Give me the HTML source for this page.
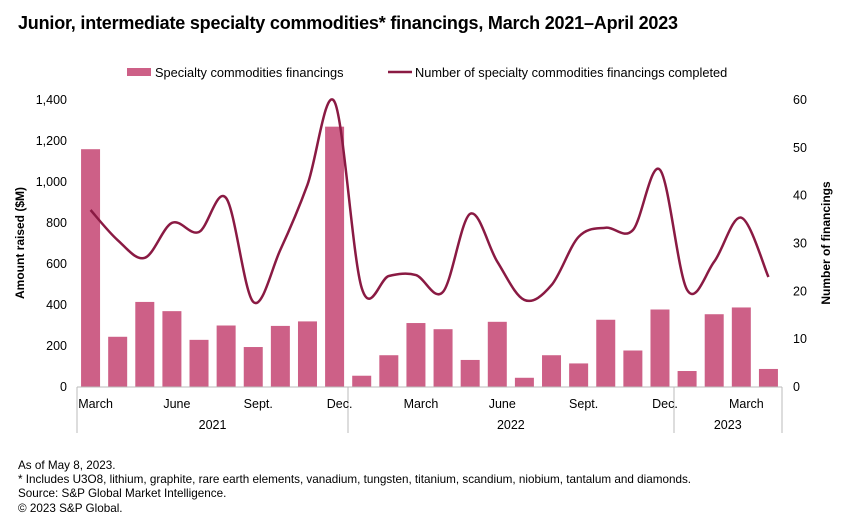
<!DOCTYPE html>
<html><head><meta charset="utf-8"><style>
body{margin:0;background:#fff;font-family:"Liberation Sans",sans-serif;}
#wrap{position:relative;width:850px;height:530px;overflow:hidden;}
.t{position:absolute;color:#000;}
</style></head><body>
<div id="wrap">
<div class="t" style="left:18px;top:13px;font-size:18px;font-weight:bold;letter-spacing:-0.2px;">Junior, intermediate specialty commodities* financings, March 2021–April 2023</div>
<svg id="c" width="850" height="530" style="position:absolute;left:0;top:0"></svg>
<div class="t" style="left:18px;top:459px;font-size:11.7px;line-height:14.2px;">As of May 8, 2023.<br>* Includes U3O8, lithium, graphite, rare earth elements, vanadium, tungsten, titanium, scandium, niobium, tantalum and diamonds.<br>Source: S&amp;P Global Market Intelligence.<br>© 2023 S&amp;P Global.</div>
</div>
<script>
const categories=["Mar21","Apr21","May21","Jun21","Jul21","Aug21","Sep21","Oct21","Nov21","Dec21","Jan22","Feb22","Mar22","Apr22","May22","Jun22","Jul22","Aug22","Sep22","Oct22","Nov22","Dec22","Jan23","Feb23","Mar23","Apr23"];
const amounts=[1160,245,415,370,230,300,195,298,320,1270,55,155,312,282,132,318,45,155,115,328,178,378,78,355,388,88];
const counts=[37,30.7,27,34.3,32.4,39.5,17.8,28.7,42.3,59.6,20.7,23.2,23.4,19.9,36.2,26.2,18.2,21.3,31.4,33.3,32.8,45.4,20.3,26.2,35.4,23];
const leftTicks=[0,200,400,600,800,1000,1200,1400];
const rightTicks=[0,10,20,30,40,50,60];
const monthLabels=[[0,"March"],[3,"June"],[6,"Sept."],[9,"Dec."],[12,"March"],[15,"June"],[18,"Sept."],[21,"Dec."],[24,"March"]];
const years=[["2021",0,9],["2022",10,21],["2023",22,25]];

const svg=document.getElementById('c');const NS="http://www.w3.org/2000/svg";
const X0=77,X1=782,Y0=387,Y1=100;
const band=(X1-X0)/categories.length;
const xc=i=>X0+band*(i+0.5);
const yL=v=>Y0-(v/1400)*(Y0-Y1);
const yR=v=>Y0-(v/60)*(Y0-Y1);
function mk(tag,at){const e=document.createElementNS(NS,tag);for(const k in at)e.setAttribute(k,at[k]);svg.appendChild(e);return e;}
function txt(x,y,s,anchor,size,extra){const e=mk('text',Object.assign({x:x,y:y,'text-anchor':anchor,'font-size':size,'font-family':'Liberation Sans, sans-serif',fill:'#000'},extra||{}));e.textContent=s;return e;}

amounts.forEach((v,i)=>{const r=mk('rect',{x:xc(i)-9.5,y:yL(v),width:19,height:Y0-yL(v),fill:'#cd6087'});

});

const pts=counts.map((v,i)=>[xc(i),yR(v)]);
let d="M"+pts[0][0]+","+pts[0][1];
for(let i=0;i<pts.length-1;i++){const p0=pts[Math.max(0,i-1)],p1=pts[i],p2=pts[i+1],p3=pts[Math.min(pts.length-1,i+2)];
const c1=[p1[0]+(p2[0]-p0[0])/6,p1[1]+(p2[1]-p0[1])/6],c2=[p2[0]-(p3[0]-p1[0])/6,p2[1]-(p3[1]-p1[1])/6];
d+=" C"+c1+" "+c2+" "+p2;}
const ln=mk('path',{d:d,fill:'none',stroke:'#8a1a43','stroke-width':2.5});



mk('line',{x1:X0,y1:Y0,x2:X1,y2:Y0,stroke:'#bbb','stroke-width':1});
[[X0],[348],[674],[X1]].forEach(a=>mk('line',{x1:a[0],y1:Y0,x2:a[0],y2:433,stroke:'#bbb','stroke-width':1}));
leftTicks.forEach(v=>{const t=txt(67,yL(v)+4,v.toLocaleString('en-US'),'end',12.5);});
rightTicks.forEach(v=>{const t=txt(793,yR(v)+4,String(v),'start',12.5);});
monthLabels.forEach(m=>{const t=txt(xc(m[0])+5,408,m[1],'middle',12.5);});
years.forEach(y=>{const t=txt((xc(y[1])+xc(y[2]))/2,429,y[0],'middle',12.5);});
let a=txt(0,0,'Amount raised ($M)','middle',12,{transform:'translate(24,243) rotate(-90)','font-weight':'bold'});

a=txt(0,0,'Number of financings','middle',12,{transform:'translate(830,243) rotate(-90)','font-weight':'bold'});

let l=mk('rect',{x:127,y:68,width:24,height:8,fill:'#cd6087'});
l=txt(155,77,'Specialty commodities financings','start',12.8);
l=mk('line',{x1:388,y1:72,x2:412,y2:72,stroke:'#8a1a43','stroke-width':2.5});
l=txt(415,77,'Number of specialty commodities financings completed','start',12.8);
</script>
</body></html>
